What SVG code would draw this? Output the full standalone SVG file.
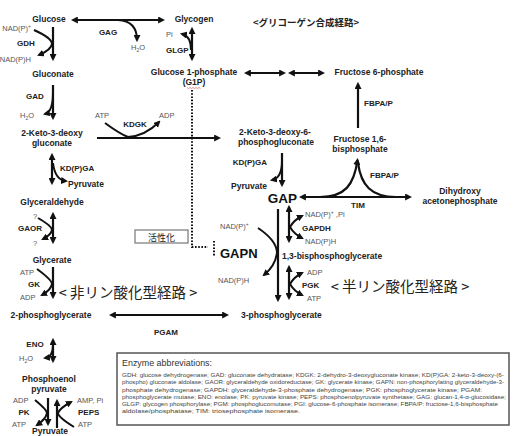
<svg xmlns="http://www.w3.org/2000/svg" width="515" height="436" viewBox="0 0 515 436">
<style>
.m{font-family:"Liberation Sans",Arial,sans-serif;font-weight:bold;font-size:8.5px;fill:#222}
.e{font-family:"Liberation Sans",Arial,sans-serif;font-weight:bold;font-size:8px;fill:#222}
.c{font-family:"Liberation Sans",Arial,sans-serif;font-size:7.5px;fill:#555}
.jp{font-family:"Noto Sans CJK JP",sans-serif;fill:#222}
.big{font-family:"Liberation Sans",Arial,sans-serif;font-weight:bold;fill:#111}
.ln{stroke:#111;stroke-width:2.2;fill:none}
.br{stroke:#111;stroke-width:2;fill:none}
.dot{stroke:#111;stroke-width:2;stroke-dasharray:1.6 1.6;fill:none}
.ab{font-family:"Liberation Sans",Arial,sans-serif;font-size:5.2px;fill:#444}
</style>
<defs>
<marker id="ah" viewBox="0 0 10 10" refX="7" refY="5" markerWidth="7" markerHeight="7" markerUnits="userSpaceOnUse" orient="auto-start-reverse"><path d="M0,0 L10,5 L0,10 z" fill="#111"/></marker>
</defs>
<rect width="515" height="436" fill="#fff"/>

<g id="connectors">
<path class="ln" d="M73,20 L163,20" marker-start="url(#ah)" marker-end="url(#ah)"/>
<path class="br" d="M118,20 Q137,21 137,40" marker-end="url(#ah)"/>
<path class="ln" d="M192,29 L192,59" marker-start="url(#ah)" marker-end="url(#ah)"/>
<path class="br" d="M191,50 Q191,36 182,34" marker-end="url(#ah)"/>
<path class="ln" d="M246,73 L284,73" marker-start="url(#ah)" marker-end="url(#ah)"/>
<path class="ln" d="M290,73 L323,73" marker-start="url(#ah)" marker-end="url(#ah)"/>
<path class="ln" d="M358,128 L358,84" marker-end="url(#ah)"/>
<path class="ln" d="M301,197 L410,197" marker-start="url(#ah)" marker-end="url(#ah)"/>
<path class="ln" d="M320,197 C345,197 354,185 357.5,160" marker-end="url(#ah)"/>
<path class="ln" d="M396,197 C371,197 361,185 358,163"/>
<path class="ln" d="M53,27 L53,59" marker-end="url(#ah)"/>
<path class="br" d="M34,30 Q52,38 52,44 Q51,50 39,55" marker-end="url(#ah)"/>
<path class="ln" d="M53,85 L53,118" marker-end="url(#ah)"/>
<path class="br" d="M53,92 Q53,112 45,114" marker-end="url(#ah)"/>
<path class="ln" d="M97,138 L219,138" marker-end="url(#ah)"/>
<path class="br" d="M105,123 Q120,134 128,137 Q145,136 159,122" marker-end="url(#ah)"/>
<path class="ln" d="M52,155 L52,183" marker-start="url(#ah)" marker-end="url(#ah)"/>
<path class="br" d="M53,163 Q55,180 66,181" marker-end="url(#ah)"/>
<path class="ln" d="M53,214 L53,242" marker-start="url(#ah)" marker-end="url(#ah)"/>
<path class="br" d="M38,218 Q52,226 52,230 Q51,235 43,239" marker-end="url(#ah)"/>
<path class="ln" d="M53,267 L53,297" marker-end="url(#ah)"/>
<path class="br" d="M37,269 Q52,280 52,284 Q51,290 42,295" marker-end="url(#ah)"/>
<path class="ln" d="M111,315 L227,315" marker-start="url(#ah)" marker-end="url(#ah)"/>
<path class="ln" d="M53,340 L53,361" marker-start="url(#ah)" marker-end="url(#ah)"/>
<path class="br" d="M53,345 Q53,357 45,358" marker-end="url(#ah)"/>
<path class="ln" d="M48,398 L48,424" marker-end="url(#ah)"/>
<path class="ln" d="M57,428 L57,401" marker-end="url(#ah)"/>
<path class="br" d="M35,400 Q47,410 47,413 Q46,419 37,425" marker-end="url(#ah)"/>
<path class="br" d="M74,427 Q58,417 58,413 Q60,408 71,402" marker-end="url(#ah)"/>
<path class="ln" d="M282,153 L282,185" marker-end="url(#ah)"/>
<path class="br" d="M282,161 Q282,178 272,180" marker-end="url(#ah)"/>
<path class="ln" d="M278,209 L278,300" marker-end="url(#ah)"/>
<path class="br" d="M258,228 Q276,240 277,252 Q276,265 264,275" marker-end="url(#ah)"/>
<path class="ln" d="M289,207 L289,241" marker-start="url(#ah)" marker-end="url(#ah)"/>
<path class="br" d="M290,227 Q294,220 302,216" marker-end="url(#ah)"/>
<path class="br" d="M290,227 Q294,234 302,238" marker-end="url(#ah)"/>
<path class="ln" d="M289,267 L289,298" marker-start="url(#ah)" marker-end="url(#ah)"/>
<path class="br" d="M290,284 Q294,277 302,273" marker-end="url(#ah)"/>
<path class="br" d="M290,284 Q294,291 302,295" marker-end="url(#ah)"/>
<path class="dot" d="M192,90 L192,247 L208,247"/>
<path class="dot" d="M214,241 L214,256"/>
</g>

<g id="title"><text class="jp" x="306" y="26" text-anchor="middle" style="font-size:9.5px;font-weight:bold">&lt;グリコーゲン合成経路&gt;</text></g>

<g id="glucose"><text class="m" x="49" y="22" text-anchor="middle">Glucose</text></g>
<g id="gdh">
<text class="c" x="31" y="31" text-anchor="end">NAD(P)<tspan dy="-3" style="font-size:5px">+</tspan></text>
<text class="e" x="26" y="46" text-anchor="middle">GDH</text>
<text class="c" x="31" y="62" text-anchor="end">NAD(P)H</text>
</g>
<g id="gluconate"><text class="m" x="53" y="77" text-anchor="middle">Gluconate</text></g>
<g id="gad">
<text class="e" x="35" y="99" text-anchor="middle">GAD</text>
<text class="c" x="20" y="118">H<tspan dy="2" style="font-size:5px">2</tspan><tspan dy="-2">O</tspan></text>
</g>
<g id="kdg"><text class="m" x="52" y="136" text-anchor="middle">2-Keto-3-deoxy</text><text class="m" x="52" y="146" text-anchor="middle">gluconate</text></g>
<g id="kdgk">
<text class="c" x="95" y="118">ATP</text>
<text class="e" x="135" y="127" text-anchor="middle">KDGK</text>
<text class="c" x="159" y="118">ADP</text>
</g>
<g id="kdpga-left">
<text class="e" x="60" y="171">KD(P)GA</text>
<text class="m" x="68" y="187">Pyruvate</text>
</g>
<g id="glyceraldehyde"><text class="m" x="52" y="205" text-anchor="middle">Glyceraldehyde</text></g>
<g id="gaor">
<text class="c" x="33" y="219">?</text>
<text class="e" x="30" y="231" text-anchor="middle">GAOR</text>
<text class="c" x="33" y="246">?</text>
</g>
<g id="glycerate"><text class="m" x="52" y="263" text-anchor="middle">Glycerate</text></g>
<g id="gk">
<text class="c" x="20" y="275">ATP</text>
<text class="e" x="34" y="287" text-anchor="middle">GK</text>
<text class="c" x="20" y="300">ADP</text>
</g>
<g id="nonphos"><text class="jp" x="128" y="298" text-anchor="middle" style="font-size:14.5px">&lt; 非リン酸化型経路 &gt;</text></g>
<g id="pg2"><text class="m" x="51" y="318" text-anchor="middle">2-phosphoglycerate</text></g>
<g id="pgam"><text class="e" x="166" y="335" text-anchor="middle">PGAM</text></g>
<g id="eno">
<text class="e" x="35" y="347" text-anchor="middle">ENO</text>
<text class="c" x="19" y="361">H<tspan dy="2" style="font-size:5px">2</tspan><tspan dy="-2">O</tspan></text>
</g>
<g id="pep"><text class="m" x="49" y="382" text-anchor="middle">Phosphoenol</text><text class="m" x="49" y="392" text-anchor="middle">pyruvate</text></g>
<g id="pk">
<text class="c" x="13" y="403">ADP</text>
<text class="e" x="24" y="415" text-anchor="middle">PK</text>
<text class="c" x="12" y="427">ATP</text>
<text class="c" x="77" y="403">AMP, Pi</text>
<text class="e" x="78" y="415">PEPS</text>
<text class="c" x="78" y="427">ATP</text>
</g>
<g id="pyruvate"><text class="m" x="50" y="434" text-anchor="middle">Pyruvate</text></g>

<g id="glycogen"><text class="m" x="194" y="22" text-anchor="middle">Glycogen</text></g>
<g id="gag">
<text class="e" x="108" y="35" text-anchor="middle">GAG</text>
<text class="c" x="131" y="50">H<tspan dy="2" style="font-size:5px">2</tspan><tspan dy="-2">O</tspan></text>
</g>
<g id="glgp">
<text class="c" x="166" y="37">Pi</text>
<text class="e" x="166" y="53">GLGP</text>
</g>
<g id="g1p">
<text class="m" x="194" y="75" text-anchor="middle">Glucose 1-phosphate</text>
<text class="m" x="194" y="85" text-anchor="middle">(G1P)</text>
<path d="M187,87.5 l1.5,1 1.5,-1 1.5,1 1.5,-1 1.5,1 1.5,-1 1.5,1 1.5,-1 1.5,1" stroke="#d44" stroke-width="0.6" fill="none"/>
</g>
<g id="activation">
<rect x="135" y="230" width="53" height="13" fill="#fff" stroke="#777" stroke-width="1.2"/>
<text class="jp" x="161.5" y="240.5" text-anchor="middle" style="font-size:9px">活性化</text>
</g>
<g id="f6p"><text class="m" x="379" y="75" text-anchor="middle">Fructose 6-phosphate</text></g>
<g id="fbpap1"><text class="e" x="364" y="106">FBPA/P</text></g>
<g id="f16bp"><text class="m" x="360" y="142" text-anchor="middle">Fructose 1,6-</text><text class="m" x="360" y="152" text-anchor="middle">bisphosphate</text></g>
<g id="fbpap2"><text class="e" x="370" y="178">FBPA/P</text><text class="e" x="358" y="208" text-anchor="middle">TIM</text></g>
<g id="dhap"><text class="m" x="460" y="194" text-anchor="middle">Dihydroxy</text><text class="m" x="460" y="204" text-anchor="middle">acetonephosphate</text></g>
<g id="kdpg"><text class="m" x="275" y="135" text-anchor="middle">2-Keto-3-deoxy-6-</text><text class="m" x="276" y="145" text-anchor="middle">phosphogluconate</text></g>
<g id="kdpga-right">
<text class="e" x="267" y="165" text-anchor="end">KD(P)GA</text>
<text class="m" x="267" y="189" text-anchor="end">Pyruvate</text>
</g>
<g id="gap"><text class="big" x="282.5" y="203" text-anchor="middle" style="font-size:13.5px">GAP</text></g>
<g id="gapn">
<text class="c" x="220" y="229">NAD(P)<tspan dy="-3" style="font-size:5px">+</tspan></text>
<text class="big" x="220" y="258" style="font-size:13px">GAPN</text>
<text class="c" x="218" y="283">NAD(P)H</text>
</g>
<g id="gapdh">
<text class="c" x="305" y="217">NAD(P)<tspan dy="-3" style="font-size:5px">+</tspan><tspan dy="3"> ,Pi</tspan></text>
<text class="e" x="302" y="231">GAPDH</text>
<text class="c" x="305" y="244">NAD(P)H</text>
</g>
<g id="bpg"><text class="m" x="282" y="259">1,3-bisphosphoglycerate</text></g>
<g id="pgk">
<text class="c" x="307" y="275">ADP</text>
<text class="e" x="302" y="288">PGK</text>
<text class="c" x="307" y="301">ATP</text>
</g>
<g id="semiphos"><text class="jp" x="400" y="292" text-anchor="middle" style="font-size:14.5px">&lt; 半リン酸化型経路 &gt;</text></g>
<g id="pg3"><text class="m" x="241" y="318">3-phosphoglycerate</text></g>

<g id="legend">
<rect x="117" y="353" width="392" height="72" fill="#fff" stroke="#555" stroke-width="1.5"/>
<text x="122" y="366" font-family="Liberation Sans, Arial, sans-serif" font-size="9" fill="#333" textLength="90" lengthAdjust="spacingAndGlyphs">Enzyme abbreviations:</text>
<text class="ab" x="122" y="377" textLength="382" lengthAdjust="spacingAndGlyphs">GDH: glucose dehydrogenase; GAD: gluconate dehydratase; KDGK: 2-dehydro-3-deoxygluconate kinase; KD(P)GA: 2-keto-3-deoxy-(6-</text>
<text class="ab" x="122" y="384" textLength="382" lengthAdjust="spacingAndGlyphs">phospho) gluconate aldolase; GAOR: glyceraldehyde oxidoreductase; GK: glycerate kinase; GAPN: non-phosphorylating glyceraldehyde-3-</text>
<text class="ab" x="122" y="391.5" textLength="360" lengthAdjust="spacingAndGlyphs">phosphate dehydrogenase; GAPDH: glyceraldehyde-3-phosphate dehydrogenase; PGK: phosphoglycerate kinase; PGAM:</text>
<text class="ab" x="122" y="399" textLength="384" lengthAdjust="spacingAndGlyphs">phosphoglycerate mutase;  ENO: enolase; PK: pyruvate kinase; PEPS: phosphoenolpyruvate synthetase; GAG: glucan-1,4-α-glucosidase;</text>
<text class="ab" x="122" y="406" textLength="376" lengthAdjust="spacingAndGlyphs">GLGP: glycogen phosphorylase; PGM: phosphoglucomutase; PGI: glucose-6-phosphate isomerase; FBPA/P: fructose-1,6-bisphosphate</text>
<text class="ab" x="122" y="413" textLength="178" lengthAdjust="spacingAndGlyphs">aldolase/phosphatase; TIM: triosephosphate isomerase.</text>
</g>
</svg>
